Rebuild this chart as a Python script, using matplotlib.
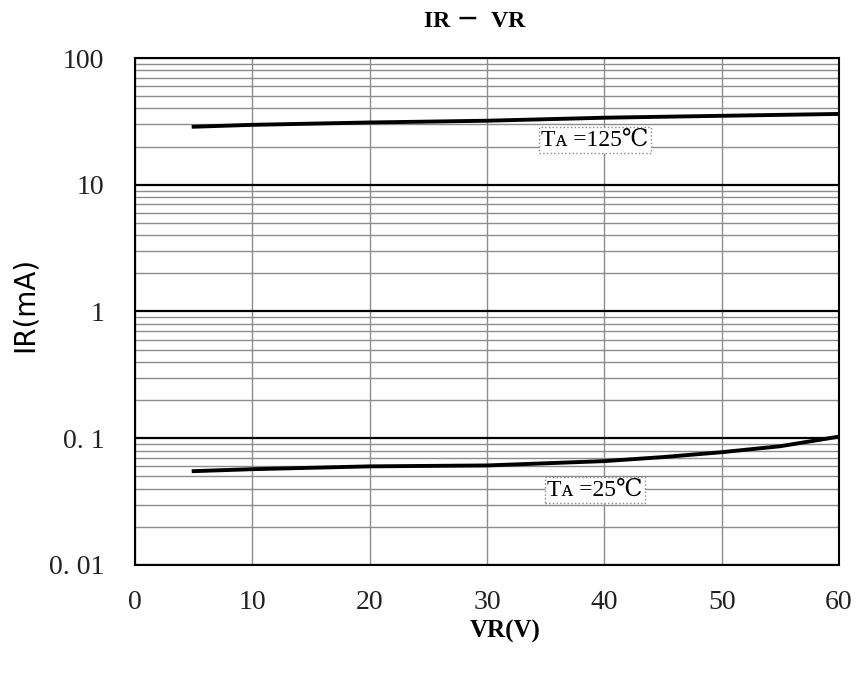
import numpy as np
import matplotlib.pyplot as plt
from matplotlib.ticker import FixedLocator, LogLocator, NullFormatter

# Curves
vr = [5, 10, 20, 30, 40, 45, 50, 55, 60]
ir_125 = [28.7, 29.7, 31.0, 32.0, 33.8, 34.4, 35.0, 35.6, 36.2]
ir_25 = [0.055, 0.057, 0.060, 0.061, 0.066, 0.071, 0.0776, 0.0865, 0.103]

x_ticks = [0, 10, 20, 30, 40, 50, 60]
y_ticks = [0.01, 0.1, 1, 10, 100]
y_tick_labels = ["0. 01", "0. 1", "1", "10", "100"]

serif = ["Liberation Serif", "DejaVu Serif", "Noto Sans CJK SC"]

fig = plt.figure(figsize=(8.57, 6.73), dpi=100)
ax = fig.add_axes([0.1575, 0.1605, 0.8215, 0.7533])

ax.set_yscale("log")
ax.set_xlim(0, 60)
ax.set_ylim(0.01, 100)

# grid: gray verticals, gray minor horizontals, black decade lines
ax.xaxis.set_major_locator(FixedLocator(x_ticks))
ax.yaxis.set_major_locator(FixedLocator(y_ticks))
ax.yaxis.set_minor_locator(LogLocator(base=10, subs=np.arange(2, 10)))
ax.yaxis.set_minor_formatter(NullFormatter())
ax.grid(True, axis="x", color="#8c8c8c", lw=1.0)
ax.grid(True, axis="y", which="minor", color="#8c8c8c", lw=1.0)
ax.grid(True, axis="y", which="major", color="black", lw=1.6)
ax.set_axisbelow(True)

ax.plot(vr, ir_125, color="black", lw=2.8)
ax.plot(vr, ir_25, color="black", lw=2.8)

ax.set_xticks(x_ticks)
ax.set_xticklabels([str(t) for t in x_ticks])
ax.set_yticks(y_ticks)
ax.set_yticklabels(y_tick_labels)
ax.tick_params(which="both", length=0)
ax.tick_params(axis="x", pad=18)
ax.tick_params(axis="y", pad=22)
for lab in ax.get_xticklabels() + ax.get_yticklabels():
    lab.set_family(serif)
    lab.set_fontsize(20)
    lab.set_color("#222222")

for s in ax.spines.values():
    s.set_color("black")
    s.set_linewidth(1.5)

box = dict(boxstyle="square,pad=0.1", fc="white", ec="#888888", ls=":", lw=1)
ax.text(39.2, 22.5, "Tᴀ =125℃", ha="center", va="center", fontsize=17,
        family=serif, bbox=box)
ax.text(39.2, 0.039, "Tᴀ =25℃", ha="center", va="center", fontsize=17,
        family=serif, bbox=box)

fig.text(0.554, 0.968, "IR －  VR", ha="center", va="center", fontsize=17,
         fontweight="bold", family=serif)
fig.text(0.589, 0.062, "VR(V)", ha="center", va="center", fontsize=18,
         fontweight="bold", family=serif)
ax.set_ylabel("IR(mA)", fontsize=20, family="DejaVu Sans")
ax.yaxis.set_label_coords(-0.137, 0.513)

fig.savefig("out.png", dpi=100)
